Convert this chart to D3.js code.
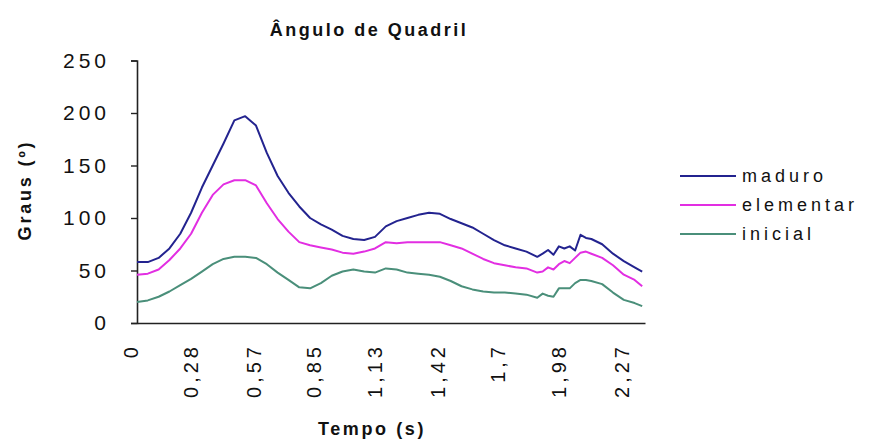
<!DOCTYPE html>
<html>
<head>
<meta charset="utf-8">
<script src="https://cdn.jsdelivr.net/npm/d3@7"></script>
<style>
  html, body { margin: 0; padding: 0; background: #fff; }
  svg { display: block; }
  text { font-family: "Liberation Sans", Arial, sans-serif; fill: #111; }
</style>
</head>
<body>
<svg id="chart" width="869" height="443"></svg>
<script>
// Tempo (s)
const times = [0, 0.05, 0.1, 0.15, 0.2, 0.25, 0.3, 0.35, 0.4, 0.45, 0.5, 0.55, 0.6, 0.65, 0.7, 0.75,
  0.8, 0.85, 0.9, 0.95, 1.0, 1.05, 1.1, 1.15, 1.2, 1.25, 1.3, 1.35, 1.4, 1.45, 1.5, 1.55, 1.6, 1.65,
  1.7, 1.75, 1.8, 1.85, 1.875, 1.9, 1.925, 1.95, 1.975, 2.0, 2.025, 2.05, 2.075, 2.1, 2.15, 2.2,
  2.25, 2.3, 2.335];

// Graus por padrão motor
const maduro = [58, 58, 62, 71, 85, 105, 129, 150, 171, 193, 197, 188, 162, 140, 124, 111,
  100, 94, 89, 83, 80, 79, 82, 92, 97, 100, 103, 105, 104, 99, 95, 91, 85, 79,
  74, 71, 68, 63, 66, 69.5, 65, 73, 71, 73, 69, 84, 81, 80, 75, 66,
  59, 53, 49];
const elementar = [46, 47, 51, 60, 71, 85, 105, 122, 132, 136, 136, 131, 114, 99, 87, 77,
  74, 72, 70, 67, 66, 68, 71, 77, 76, 77, 77, 77, 77, 74, 71, 66, 61, 57,
  55, 53, 52, 48, 49, 53, 51, 56, 59, 57, 62, 67, 68, 66, 62, 55,
  46, 41, 35];
const inicial = [20, 21.5, 25, 30, 36, 42, 49, 56, 61, 63, 63, 62, 56, 48, 41, 34,
  33, 38, 45, 49, 51, 49, 48, 52, 51, 48, 47, 46, 44, 40, 35, 32, 30, 29,
  29, 28, 27, 24, 28, 26, 25, 33, 33, 33, 38, 41, 41, 40, 37, 29,
  22, 19, 16];

const seriesNames = ["maduro", "elementar", "inicial"];
const seriesColors = ["#23238f", "#e22ee2", "#4a8f7a"];
const xTicks = [0, 0.28, 0.57, 0.85, 1.13, 1.42, 1.7, 1.98, 2.27];
const xTickLabels = ["0", "0,28", "0,57", "0,85", "1,13", "1,42", "1,7", "1,98", "2,27"];
const yTicks = [0, 50, 100, 150, 200, 250];

const svg = d3.select("#chart");
const plot = { left: 137, right: 645, top: 60.5, bottom: 323 };

const x = d3.scaleLinear().domain([0, 2.348]).range([plot.left, plot.right]);
const y = d3.scaleLinear().domain([0, 250]).range([plot.bottom, plot.top]);

// Eixo Y
const yAxis = svg.append("g")
  .attr("transform", `translate(${plot.left},0)`)
  .call(d3.axisLeft(y).tickValues(yTicks).tickSize(6).tickPadding(21).tickFormat(d3.format("d")));
yAxis.select(".domain").attr("stroke", "#222").attr("stroke-width", 1.6);
yAxis.selectAll(".tick line").attr("stroke", "#222").attr("stroke-width", 1.4);
yAxis.selectAll(".tick text")
  .style("font-size", "21px")
  .style("letter-spacing", "4px")
  .style("font-family", "'Liberation Sans', Arial, sans-serif")
  .attr("fill", "#222");

// Eixo X
const xAxis = svg.append("g")
  .attr("transform", `translate(0,${plot.bottom})`)
  .call(d3.axisBottom(x).tickValues(xTicks).tickSize(0).tickPadding(0)
    .tickFormat((d, i) => xTickLabels[i]));
xAxis.select(".domain").attr("stroke", "#222").attr("stroke-width", 1.6);
xAxis.selectAll(".tick text")
  .attr("transform", "rotate(-90)")
  .attr("text-anchor", "end")
  .attr("x", -20)
  .attr("y", 0)
  .attr("dy", "0")
  .style("font-size", "20px")
  .style("letter-spacing", "4px")
  .style("font-family", "'Liberation Sans', Arial, sans-serif")
  .attr("fill", "#222");

// Linhas
const allSeries = [maduro, elementar, inicial];
const line = d3.line()
  .x((d, i) => x(times[i]))
  .y(d => y(d));

svg.append("g").selectAll("path")
  .data(allSeries)
  .join("path")
  .attr("d", line)
  .attr("fill", "none")
  .attr("stroke", (d, i) => seriesColors[i])
  .attr("stroke-width", 2)
  .attr("stroke-linejoin", "round");

// Título
svg.append("text")
  .attr("x", 369).attr("y", 36)
  .attr("text-anchor", "middle")
  .style("font-size", "18px").style("font-weight", "bold").style("letter-spacing", "2.5px")
  .text("Ângulo de Quadril");

// Rótulo do eixo Y
svg.append("text")
  .attr("transform", "translate(31,190) rotate(-90)")
  .attr("text-anchor", "middle")
  .style("font-size", "18px").style("font-weight", "bold").style("letter-spacing", "2.8px")
  .text("Graus (º)");

// Rótulo do eixo X
svg.append("text")
  .attr("x", 372).attr("y", 435)
  .attr("text-anchor", "middle")
  .style("font-size", "18px").style("font-weight", "bold").style("letter-spacing", "2.6px")
  .text("Tempo (s)");

// Legenda
const legendY = d3.scalePoint().domain(seriesNames).range([176, 234]);
const legend = svg.append("g");
seriesNames.forEach((name, i) => {
  const ly = legendY(name);
  legend.append("line")
    .attr("x1", 680).attr("x2", 736).attr("y1", ly).attr("y2", ly)
    .attr("stroke", seriesColors[i]).attr("stroke-width", 2);
  legend.append("text")
    .attr("x", 742).attr("y", ly + 6)
    .style("font-size", "18px").style("letter-spacing", "4px")
    .text(name);
});
</script>
</body>
</html>
